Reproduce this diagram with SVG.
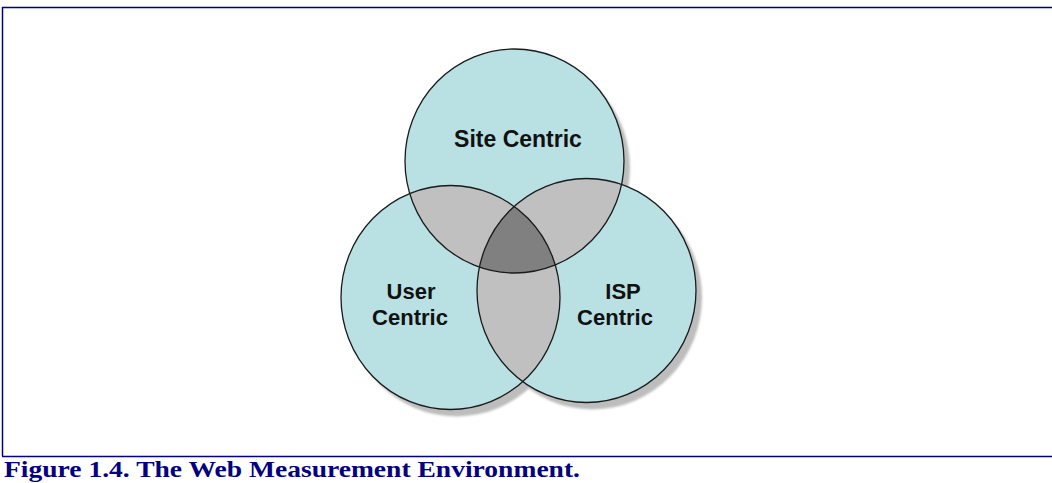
<svg xmlns="http://www.w3.org/2000/svg" width="1052" height="483" viewBox="0 0 1052 483">
  <style>
    .frame { stroke: #000080; stroke-width: 1.5; fill: none; }
    .disc { fill: #b9e0e3; }
    .pair { fill: #c0c0c0; }
    .core { fill: #808080; }
    .rim { fill: none; stroke: #1a1a1a; stroke-width: 1.3; }
    .label { font-family: "Liberation Sans", Arial, sans-serif; font-weight: bold; fill: #111; text-anchor: middle; }
    .caption { font-family: "Liberation Serif", "Times New Roman", serif; font-weight: bold; fill: #000080; font-size: 24px; }
  </style>
  <defs>
    <ellipse id="site" cx="514.5" cy="161" rx="109.5" ry="112"/>
    <ellipse id="user" cx="450.5" cy="297.5" rx="109.5" ry="112"/>
    <ellipse id="isp" cx="586.5" cy="290.5" rx="109.5" ry="112"/>
    <clipPath id="clipSite"><use href="#site"/></clipPath>
    <clipPath id="clipUser"><use href="#user"/></clipPath>
    <clipPath id="clipIsp"><use href="#isp"/></clipPath>
    <filter id="soft" x="-10%" y="-10%" width="120%" height="120%">
      <feGaussianBlur stdDeviation="1.2"/>
    </filter>
  </defs>

  <!-- page frame -->
  <g id="frame">
    <path class="frame" d="M2.5,456 V7.5 H1052"/>
    <path class="frame" d="M2,456.5 H1052"/>
  </g>

  <!-- drop shadows -->
  <g id="shadows" fill="#bdbdbd" filter="url(#soft)" transform="translate(6,7)">
    <use href="#site"/>
    <use href="#user"/>
    <use href="#isp"/>
  </g>

  <!-- circle bodies -->
  <g id="node-site"><use href="#site" class="disc"/></g>
  <g id="node-user"><use href="#user" class="disc"/></g>
  <g id="node-isp"><use href="#isp" class="disc"/></g>

  <!-- overlaps -->
  <g id="overlaps">
    <g clip-path="url(#clipSite)"><use href="#user" class="pair"/></g>
    <g clip-path="url(#clipSite)"><use href="#isp" class="pair"/></g>
    <g clip-path="url(#clipUser)"><use href="#isp" class="pair"/></g>
    <g clip-path="url(#clipSite)"><g clip-path="url(#clipUser)"><use href="#isp" class="core"/></g></g>
  </g>

  <!-- outlines -->
  <g id="outlines">
    <use href="#site" class="rim"/>
    <use href="#user" class="rim"/>
    <use href="#isp" class="rim"/>
  </g>

  <!-- labels -->
  <g id="labels">
    <text class="label" x="518" y="147" font-size="23">Site Centric</text>
    <text class="label" x="411" y="299" font-size="22">User</text>
    <text class="label" x="410" y="325" font-size="22">Centric</text>
    <text class="label" x="623" y="299" font-size="22">ISP</text>
    <text class="label" x="615" y="325" font-size="22">Centric</text>
  </g>

  <text class="caption" x="4" y="477" textLength="576" lengthAdjust="spacingAndGlyphs">Figure 1.4. The Web Measurement Environment.</text>
</svg>
